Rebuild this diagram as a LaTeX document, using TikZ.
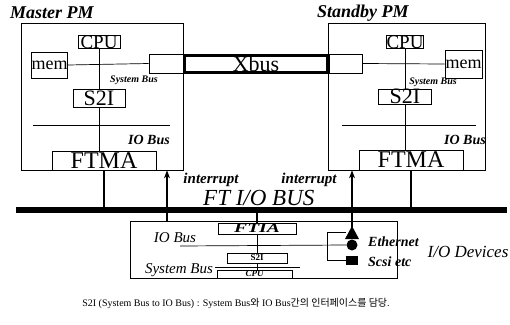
\documentclass[tikz,border=0pt]{standalone}
\usepackage{fontspec}
\usepackage{graphicx}
\setmainfont{Liberation Serif}
\newfontfamily\krfont{Noto Sans CJK KR}
\usepackage{tikz}
\usetikzlibrary{arrows.meta,positioning,calc}
\newcommand{\fsz}[1]{\fontsize{#1}{#1}\selectfont}
\tikzset{
  pmbox/.style={draw,line width=0.7pt,inner sep=0pt},
  part/.style={draw,line width=0.7pt,inner sep=0pt,font=\fsz{18}},
  tag/.style={inner sep=0pt,font=\fsz{12}\bfseries\itshape},
  wire/.style={line width=0.7pt},
  stub/.style={line width=2.6pt},
  irq/.style={line width=1.1pt,-{Stealth[length=8pt,width=6pt]}},
}
\begin{document}
\begin{tikzpicture}[x=1pt,y=-1pt]
        \useasboundingbox (0,0) rectangle (510,324);
        % Master PM
        \node[inner sep=0pt,font=\fsz{18}\bfseries\itshape,anchor=west] (mtitle) at (10,13) {Master PM};
        \node[pmbox,minimum width=162,minimum height=147] (mbox) at (102,96.5) {};
        \node[part,minimum width=42,minimum height=12,font=\fsz{19}] (mcpu) at (99,42) {CPU};
        \node[part,minimum width=35,minimum height=26] (mmem) at (49.5,65) {mem};
        \node[part,minimum width=34,minimum height=19] (mxl) at (166,63.5) {};
        \node[part,minimum width=52,minimum height=18,font=\fsz{22}] (ms2i) at (99,98) {S2I};
        \node[part,minimum width=104,minimum height=19,font=\fsz{24}] (mftma) at (104,160.5) {FTMA};
        \node[tag,font=\fsz{10}\bfseries\itshape] (msys) at (134,80) {System Bus};
        \node[tag,font=\fsz{14}\bfseries\itshape] (mio) at (149,140) {IO Bus};
        \draw[wire] (mmem.east) -- (mxl.west);
        \draw[wire] (mcpu.south) -- (ms2i.north);
        \draw[wire] (ms2i.south) -- (ms2i.south |- mftma.north);
        \draw[wire] (33,125) -- (170,125);
        % Standby PM
        \node[inner sep=0pt,font=\fsz{18}\bfseries\itshape,anchor=west] (stitle) at (317,13) {Standby PM};
        \node[pmbox,minimum width=157,minimum height=147] (sbox) at (406.5,96.5) {};
        \node[part,minimum width=36,minimum height=12,font=\fsz{19}] (scpu) at (405,42) {CPU};
        \node[part,minimum width=37,minimum height=28] (smem) at (463.5,64) {mem};
        \node[part,minimum width=33,minimum height=19] (sxr) at (345.5,63.5) {};
        \node[part,minimum width=53,minimum height=15,font=\fsz{22}] (ss2i) at (405,96.5) {S2I};
        \node[part,minimum width=104,minimum height=20,font=\fsz{24}] (sftma) at (411,160) {FTMA};
        \node[tag,font=\fsz{10}\bfseries\itshape] (ssys) at (433,82) {System Bus};
        \node[tag,font=\fsz{14}\bfseries\itshape] (sio) at (465,140) {IO Bus};
        \draw[wire] (sxr.east) -- (smem.west);
        \draw[wire] (scpu.south) -- (ss2i.north);
        \draw[wire] (ss2i.south) -- (ss2i.south |- sftma.north);
        \draw[wire] (342,125) -- (476,125);
        % Xbus
        \node[draw,line width=3pt,inner sep=0pt,minimum width=143,minimum height=17,font=\fsz{22}] (xbus) at (256,64) {Xbus};
        % FT I/O BUS
        \coordinate (busl) at (16,210);
        \coordinate (busr) at (507,210);
        \draw[line width=6pt] (busl) -- (busr);
        \node[inner sep=0pt,font=\fsz{23}\itshape,anchor=base west] (bustxt) at (203,205.5) {FT I/O BUS};
        \draw[stub] (mftma.south) -- (mftma.south |- busl);
        \draw[stub] (sftma.south) -- (sftma.south |- busl);
        % I/O board
        \node[pmbox,minimum width=267,minimum height=57] (iobox) at (263.5,249.5) {};
        \node[part,minimum width=78,minimum height=11,font=\fsz{13}\bfseries\itshape] (ftia) at (257,228.5) {\scalebox{1.5}[1]{FTIA}};
        \node[part,minimum width=60,minimum height=10,font=\fsz{9}\bfseries] (is2i) at (257,258) {S2I};
        \node[part,minimum width=75,minimum height=8,font=\fsz{9}\bfseries\itshape] (icpu) at (254.5,274) {CPU};
        \node[tag,font=\fsz{15}\itshape] (iio) at (175,238) {IO Bus};
        \node[tag,font=\fsz{15}\itshape] (isys) at (179,270) {System Bus};
        \draw[stub] (ftia.north) -- (ftia.north |- busl);
        \draw[wire] (ftia.south) -- (is2i.north);
        \draw[wire] (is2i.south) -- (is2i.south |- icpu.north);
        \draw[wire] (215,267) -- (300,267);
        % devices
        \node[circle,fill,inner sep=0pt,minimum size=11] (eth) at (352,245) {};
        \node[rectangle,fill,inner sep=0pt,minimum width=12,minimum height=9] (scsi) at (352,260) {};
        \fill (345,239) -- (352,226) -- (359,239) -- cycle;
        \coordinate (brk) at (327,232);
        \draw[wire] (180,246) -- (eth.west);
        \draw[wire] (scsi.west) -| (brk) -- (brk -| eth.west);
        \node[tag,font=\fsz{14}\bfseries\itshape,anchor=west] (ethtxt) at (368,242) {Ethernet};
        \node[tag,font=\fsz{14}\bfseries\itshape,anchor=west] (scsitxt) at (368,262) {Scsi etc};
        \node[tag,font=\fsz{17}\itshape] (devtxt) at (468,252) {I/O Devices};
        % interrupts
        \coordinate (mirq) at (167,221);
        \draw[irq] (mirq) -- (mirq |- mbox.south);
        \draw[irq] (eth.north) -- (eth.north |- sbox.south);
        \node[tag,font=\fsz{15}\bfseries\itshape] (mirqtxt) at (211,179.5) {interrupt};
        \node[tag,font=\fsz{15}\bfseries\itshape] (sirqtxt) at (309,179.5) {interrupt};
        % caption
        \node[inner sep=0pt,font=\fsz{10}] (cap) at (236,303)
          {S2I (System Bus to IO Bus) : System Bus{\krfont 와} IO Bus{\krfont 간의 인터페이스를 담당}.};
\end{tikzpicture}
\end{document}
